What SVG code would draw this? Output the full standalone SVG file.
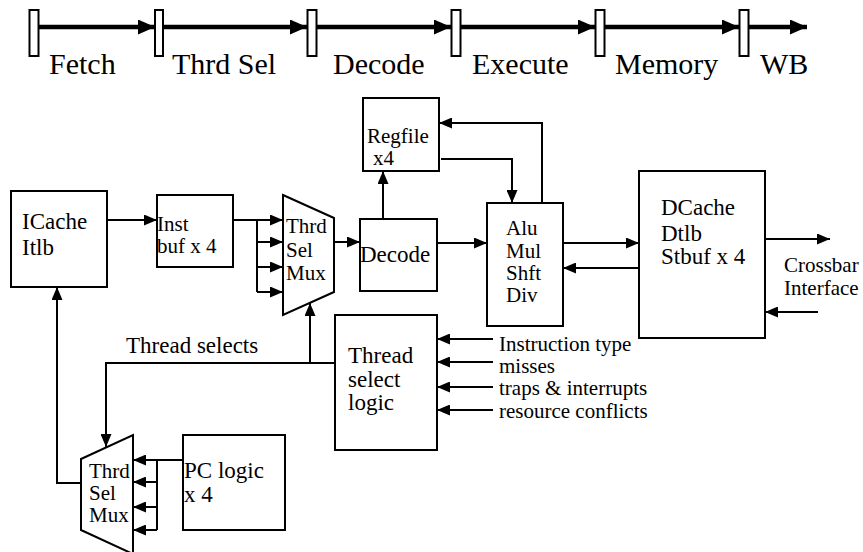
<svg xmlns="http://www.w3.org/2000/svg" width="863" height="552" viewBox="0 0 863 552" font-family="'Liberation Serif', 'Times New Roman', 'DejaVu Serif', serif">
<style>
text{font-family:'Liberation Serif','Times New Roman','DejaVu Serif',serif;fill:#000}
.stage{font-size:30px}
.t{font-size:23px}
.s{font-size:21px}
.box{fill:#fff;stroke:#000;stroke-width:2}
.reg{fill:#fff;stroke:#000;stroke-width:2}
.w{fill:none;stroke:#000;stroke-width:2}
.a{fill:none;stroke:#000;stroke-width:2;marker-end:url(#ah)}
.p{fill:none;stroke:#000;stroke-width:4.5;marker-end:url(#ph)}
</style>
<defs>
<marker id="ah" markerUnits="userSpaceOnUse" markerWidth="13" markerHeight="11" refX="13" refY="5.5" orient="auto"><path d="M0,0 L13,5.5 L0,11 z" fill="#000"/></marker>
<marker id="ph" markerUnits="userSpaceOnUse" markerWidth="17" markerHeight="15" refX="17" refY="7.5" orient="auto"><path d="M0,0 L17,7.5 L0,15 z" fill="#000"/></marker>
</defs>
<rect width="863" height="552" fill="#fff"/>

<g id="pipeline">
<line class="p" x1="39" y1="27" x2="155" y2="27"/>
<line class="p" x1="162" y1="27" x2="307" y2="27"/>
<line class="p" x1="316" y1="27" x2="451" y2="27"/>
<line class="p" x1="461" y1="27" x2="595" y2="27"/>
<line class="p" x1="605" y1="27" x2="739" y2="27"/>
<line class="p" x1="749" y1="27" x2="807" y2="27"/>
<rect class="reg" x="29.5" y="10" width="9" height="46"/>
<rect class="reg" x="155" y="10" width="8" height="46"/>
<rect class="reg" x="307.5" y="10" width="9" height="46"/>
<rect class="reg" x="451.5" y="10" width="9" height="46"/>
<rect class="reg" x="595.5" y="10" width="9" height="46"/>
<rect class="reg" x="739.5" y="10" width="9" height="46"/>
<text class="stage" x="49" y="74">Fetch</text>
<text class="stage" x="172" y="74">Thrd Sel</text>
<text class="stage" x="333" y="74">Decode</text>
<text class="stage" x="472" y="74">Execute</text>
<text class="stage" x="615" y="74">Memory</text>
<text class="stage" x="760" y="74">WB</text>
</g>

<g id="connectors">
<line class="a" x1="107" y1="220" x2="157" y2="220"/>
<polyline class="w" points="233,220 257,220"/>
<line class="w" x1="257" y1="220" x2="257" y2="292"/>
<line class="a" x1="257" y1="220" x2="283" y2="220"/>
<line class="a" x1="257" y1="242" x2="283" y2="242"/>
<line class="a" x1="257" y1="267" x2="283" y2="267"/>
<line class="a" x1="257" y1="292" x2="283" y2="292"/>
<line class="a" x1="334" y1="242" x2="360" y2="242"/>
<line class="a" x1="383" y1="219" x2="383" y2="171"/>
<line class="a" x1="437" y1="243" x2="487" y2="243"/>
<polyline class="a" points="542,203 542,123 439,123"/>
<polyline class="a" points="441,159 512,159 512,203"/>
<line class="a" x1="563" y1="243" x2="639" y2="243"/>
<line class="a" x1="639" y1="268" x2="563" y2="268"/>
<line class="a" x1="765" y1="239" x2="830" y2="239"/>
<line class="a" x1="818" y1="312" x2="765" y2="312"/>
<line class="a" x1="493" y1="339" x2="437" y2="339"/>
<line class="a" x1="493" y1="362" x2="437" y2="362"/>
<line class="a" x1="493" y1="387" x2="437" y2="387"/>
<line class="a" x1="493" y1="410" x2="437" y2="410"/>
<polyline class="a" points="335,363 106,363 106,447"/>
<line class="a" x1="310" y1="363" x2="310" y2="303"/>
<line class="a" x1="183" y1="460" x2="133" y2="460"/>
<line class="w" x1="157" y1="460" x2="157" y2="530"/>
<line class="a" x1="157" y1="482" x2="133" y2="482"/>
<line class="a" x1="157" y1="507" x2="133" y2="507"/>
<line class="a" x1="157" y1="530" x2="133" y2="530"/>
<polyline class="a" points="81,483 57,483 57,287"/>
</g>

<g id="icache">
<rect class="box" x="11" y="191" width="96" height="96"/>
<text class="t" x="22" y="229">ICache</text>
<text class="t" x="22" y="255">Itlb</text>
</g>
<g id="instbuf">
<rect class="box" x="157" y="195" width="76" height="72"/>
<text class="s" x="157" y="231">Inst</text>
<text class="s" x="157" y="253">buf x 4</text>
</g>
<g id="mux1">
<polygon class="box" points="283,195 334,218 334,292 283,315"/>
<text class="s" x="286" y="233">Thrd</text>
<text class="s" x="286" y="257">Sel</text>
<text class="s" x="286" y="280">Mux</text>
</g>
<g id="decode">
<rect class="box" x="360" y="219" width="77" height="72"/>
<text class="t" x="360" y="262">Decode</text>
</g>
<g id="regfile">
<rect class="box" x="363" y="98" width="76" height="73"/>
<text class="s" x="367" y="143">Regfile</text>
<text class="s" x="373" y="165">x4</text>
</g>
<g id="alu">
<rect class="box" x="487" y="203" width="76" height="123"/>
<text class="s" x="506" y="235">Alu</text>
<text class="s" x="506" y="258">Mul</text>
<text class="s" x="506" y="280">Shft</text>
<text class="s" x="506" y="302">Div</text>
</g>
<g id="dcache">
<rect class="box" x="639" y="171" width="126" height="167"/>
<text class="t" x="661" y="215">DCache</text>
<text class="t" x="661" y="241">Dtlb</text>
<text class="t" x="661" y="264">Stbuf x 4</text>
</g>
<g id="crossbar">
<text class="s" x="784" y="272">Crossbar</text>
<text class="s" x="784" y="295">Interface</text>
</g>
<g id="threadlogic">
<rect class="box" x="335" y="315" width="102" height="135"/>
<text class="t" x="348" y="363">Thread</text>
<text class="t" x="348" y="387">select</text>
<text class="t" x="348" y="410">logic</text>
</g>
<g id="inputs">
<text class="s" x="499" y="351">Instruction type</text>
<text class="s" x="499" y="373">misses</text>
<text class="s" x="499" y="395">traps &amp; interrupts</text>
<text class="s" x="499" y="418">resource conflicts</text>
</g>
<g id="threadselects">
<text class="t" x="126" y="353">Thread selects</text>
</g>
<g id="mux2">
<polygon class="box" points="81,459 133,435 133,554 81,530"/>
<text class="s" x="89" y="478">Thrd</text>
<text class="s" x="89" y="500">Sel</text>
<text class="s" x="89" y="522">Mux</text>
</g>
<g id="pclogic">
<rect class="box" x="183" y="435" width="102" height="95"/>
<text class="t" x="184" y="478">PC logic</text>
<text class="t" x="184" y="502">x 4</text>
</g>
</svg>
